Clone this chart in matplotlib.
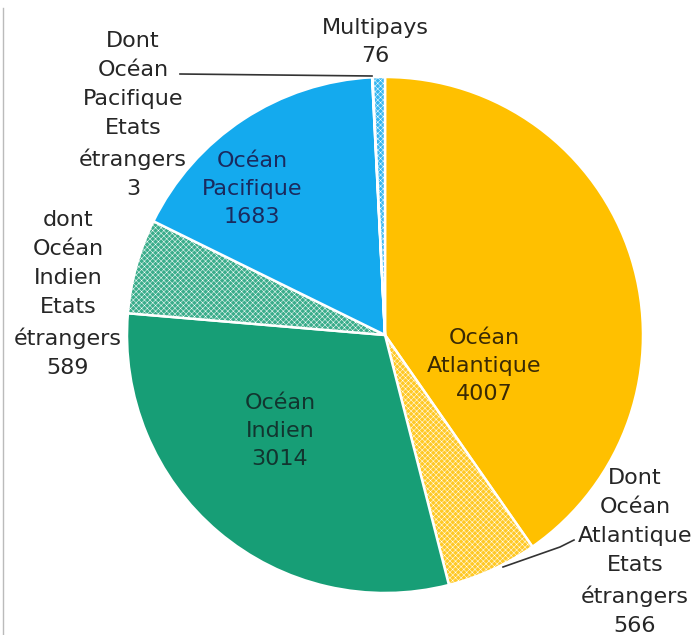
import matplotlib
matplotlib.use("Agg")
import matplotlib.pyplot as plt
from matplotlib.colors import to_rgb

labels = ["Océan\nAtlantique", "Dont\nOcéan\nAtlantique\nEtats\nétrangers",
          "Océan\nIndien", "dont\nOcéan\nIndien\nEtats\nétrangers",
          "Océan\nPacifique", "Dont\nOcéan\nPacifique\nEtats\nétrangers", "Multipays"]
values = [4007, 566, 3014, 589, 1683, 3, 76]
colors = ["#FFC000", "#FFC000", "#179E76", "#179E76", "#14AAEE", "#14AAEE", "#14AAEE"]
hatched = [False, True, False, True, False, True, True]

plt.rcParams['font.family'] = ['DejaVu Sans']
plt.rcParams['hatch.linewidth'] = 0.35


def lighten(c, f):
    rgb = to_rgb(c)
    return tuple(1 - (1 - v) * f for v in rgb)


W, H = 699, 635
fig = plt.figure(figsize=(W / 100, H / 100), dpi=100)
ax = fig.add_axes([0, 0, 1, 1])
ax.set_aspect('equal')
ax.axis('off')

face = [lighten(c, 0.85) if h else c for c, h in zip(colors, hatched)]
cx, cy, r = 385, H - 335, 258
wedges, _ = ax.pie(values, colors=face, startangle=90, counterclock=False,
                   center=(cx, cy), radius=r,
                   wedgeprops=dict(edgecolor='white', linewidth=1.8))
for w, h in zip(wedges, hatched):
    if h:
        w.set_hatch('xxxxxx')
ax.set_xlim(0, W)
ax.set_ylim(0, H)

fs = 16
ls_in = 1.5
ls_out = 1.56
# inside labels
ax.text(484, H - 366, f"{labels[0]}\n{values[0]}", ha='center', va='center',
        fontsize=fs, color='#3A2A05', linespacing=ls_in)
ax.text(280, H - 431, f"{labels[2]}\n{values[2]}", ha='center', va='center',
        fontsize=fs, color='#12352F', linespacing=ls_in)
ax.text(252, H - 189, f"{labels[4]}\n{values[4]}", ha='center', va='center',
        fontsize=fs, color='#1A2A5E', linespacing=ls_in)
# outside labels
ax.text(375, H - 42, f"{labels[6]}\n{values[6]}", ha='center', va='center',
        fontsize=fs, color='#262626', linespacing=ls_out)
ax.text(133, H - 115, f"{labels[5]}\n{values[5]}", ha='center', va='center',
        fontsize=fs, color='#262626', linespacing=ls_out)
ax.text(68, H - 294, f"{labels[3]}\n{values[3]}", ha='center', va='center',
        fontsize=fs, color='#262626', linespacing=ls_out)
ax.text(635, H - 552, f"{labels[1]}\n{values[1]}", ha='center', va='center',
        fontsize=fs, color='#262626', linespacing=ls_out)

# leader lines
ax.plot([180, 372], [H - 74, H - 76], color='#333333', lw=1.2)
ax.plot([503, 560, 574], [H - 567, H - 547, H - 540], color='#333333', lw=1.2)

# left border
ax.plot([3, 3], [0, H - 8], color='#BBBBBB', lw=1.0)

fig.savefig("out.png", dpi=100)
